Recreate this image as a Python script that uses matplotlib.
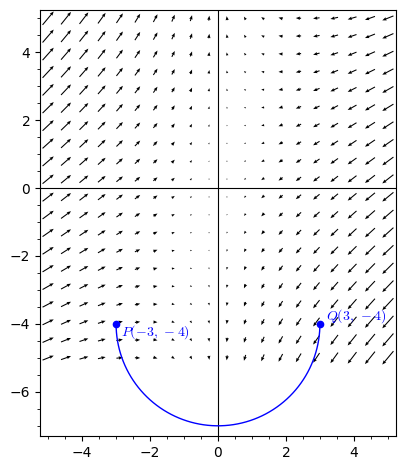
import numpy as np
import matplotlib
matplotlib.use("Agg")
import matplotlib.pyplot as plt
from matplotlib.ticker import MultipleLocator

plt.rcParams['mathtext.fontset'] = 'cm'

# vector field F(x, y) = (-2.5x, y - 2x) sampled on a 20x20 grid
field_range = (-5, 5)
plot_points = 20
fx_coef = (-2.5, 0.0)   # Fx = a*x + b*y
fy_coef = (-2.0, 1.0)   # Fy = c*x + d*y

# path: lower semicircle from P to Q, centre (0,-4), radius 3
points = {"P": (-3, -4), "Q": (3, -4)}
point_labels = {"P": r"$P(-3,\,-4)$", "Q": r"$Q(3,\,-4)$"}
arc_center = (0, -4)
arc_radius = 3

xticks = [-4, -2, 0, 2, 4]
yticks = [-6, -4, -2, 0, 2, 4]

fig = plt.figure(figsize=(4.05, 4.70), dpi=100)
ax = fig.add_axes([40/405, 34/470, 356/405, 426/470])

g = np.linspace(field_range[0], field_range[1], plot_points)
X, Y = np.meshgrid(g, g)
U = fx_coef[0]*X + fx_coef[1]*Y
V = fy_coef[0]*X + fy_coef[1]*Y
ax.quiver(X, Y, U, V, pivot='middle', color='black', zorder=1,
          angles='xy', scale_units='xy', scale=38, width=0.003,
          headwidth=3.2, headlength=4, headaxislength=3.6)

t = np.linspace(np.pi, 2*np.pi, 300)
ax.plot(arc_center[0] + arc_radius*np.cos(t), arc_center[1] + arc_radius*np.sin(t),
        color='#0000ff', lw=1, zorder=3)
for k, (px, py) in points.items():
    ax.plot([px], [py], 'o', color='#0000ff', ms=4.5, zorder=4)
ax.text(points["P"][0] + 0.15, points["P"][1] - 0.25, point_labels["P"],
        color='#0000ff', fontsize=10, va='center', ha='left', zorder=5)
ax.text(points["Q"][0] + 0.18, points["Q"][1] + 0.22, point_labels["Q"],
        color='#0000ff', fontsize=10, va='center', ha='left', zorder=5)

ax.axhline(0, color='black', lw=0.8, zorder=2)
ax.axvline(0, color='black', lw=0.8, zorder=2)

ax.set_xlim(-5.24, 5.24)
ax.set_ylim(-7.3, 5.24)
ax.set_xticks(xticks)
ax.set_yticks(yticks)
ax.xaxis.set_minor_locator(MultipleLocator(0.5))
ax.yaxis.set_minor_locator(MultipleLocator(0.5))
ax.tick_params(which='both', top=False, right=False)

fig.savefig("out.png", dpi=100)
